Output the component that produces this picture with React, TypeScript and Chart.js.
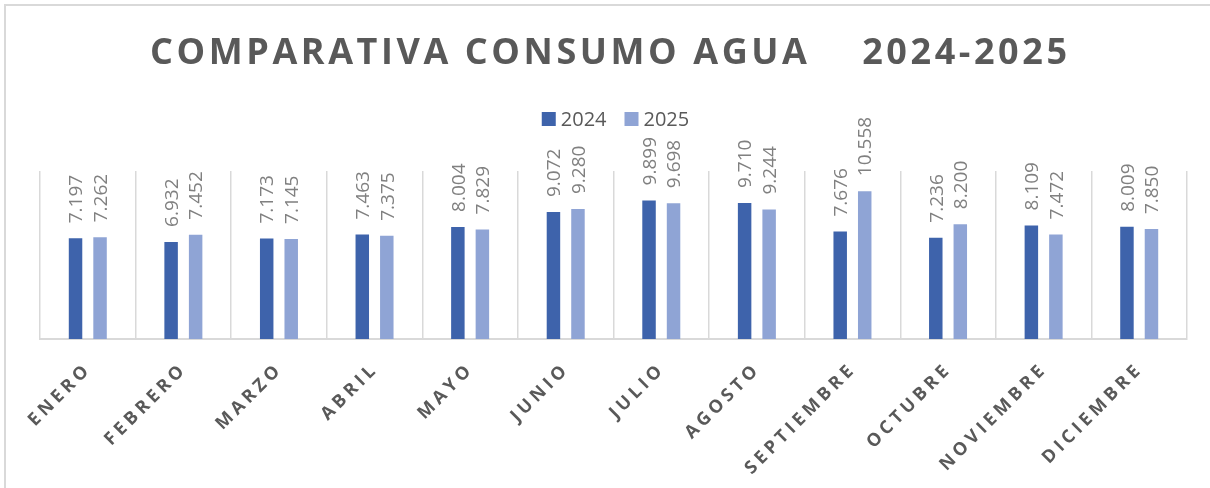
import { useEffect, useRef } from 'react';
import { Chart, registerables } from 'chart.js';

Chart.register(...registerables);

const MONTHS = ['ENERO', 'FEBRERO', 'MARZO', 'ABRIL', 'MAYO', 'JUNIO', 'JULIO', 'AGOSTO', 'SEPTIEMBRE', 'OCTUBRE', 'NOVIEMBRE', 'DICIEMBRE'];
const SERIES_2024 = [7.197, 6.932, 7.173, 7.463, 8.004, 9.072, 9.899, 9.71, 7.676, 7.236, 8.109, 8.009];
const SERIES_2025 = [7.262, 7.452, 7.145, 7.375, 7.829, 9.28, 9.698, 9.244, 10.558, 8.2, 7.472, 7.85];
const SERIES_NAMES = ['2024', '2025'];
const TITLE = 'COMPARATIVA CONSUMO AGUA    2024-2025';
const Y_MIN = 0;
const Y_MAX = 12;

const COLOR_2024 = '#3E63AB';
const COLOR_2025 = '#8FA4D5';
const TEXT_DARK = '#595959';
const TEXT_LABEL = '#808080';
const LINE = '#d9d9d9';

const FONT = '"Open Sans", "Liberation Sans", sans-serif';

const decorPlugin = {
  id: 'decor',
  beforeDraw(chart: any) {
    const ctx = chart.ctx as CanvasRenderingContext2D;
    ctx.save();
    ctx.strokeStyle = LINE;
    ctx.lineWidth = 2;
    ctx.beginPath();
    ctx.moveTo(5, chart.height);
    ctx.lineTo(5, 5);
    ctx.lineTo(chart.width, 5);
    ctx.stroke();
    ctx.restore();
  },
  afterDatasetsDraw(chart: any) {
    const ctx = chart.ctx as CanvasRenderingContext2D;
    ctx.save();
    ctx.font = `19px ${FONT}`;
    ctx.fillStyle = TEXT_LABEL;
    ctx.textAlign = 'left';
    ctx.textBaseline = 'alphabetic';
    const capHalf = 19 * 0.714 / 2;
    chart.data.datasets.forEach((ds: any, di: number) => {
      const meta = chart.getDatasetMeta(di);
      meta.data.forEach((bar: any, i: number) => {
        const v = ds.data[i] as number;
        const txt = v.toFixed(3);
        ctx.save();
        ctx.translate(bar.x + capHalf, bar.y - 15);
        ctx.rotate(-Math.PI / 2);
        ctx.fillText(txt, 0, 0);
        ctx.restore();
      });
    });
    ctx.restore();
  },
  afterDraw(chart: any) {
    const ctx = chart.ctx as CanvasRenderingContext2D;
    const area = chart.chartArea;
    ctx.save();

    // Title with letter spacing
    ctx.font = `bold 36px ${FONT}`;
    ctx.fillStyle = TEXT_DARK;
    ctx.textBaseline = 'alphabetic';
    ctx.textAlign = 'left';
    (ctx as any).letterSpacing = '0px';
    const targetW = 917;
    const w0 = ctx.measureText(TITLE).width;
    const sp = (targetW - w0) / (TITLE.length - 1);
    (ctx as any).letterSpacing = `${sp}px`;
    ctx.fillText(TITLE, 608.5 - targetW / 2, 64);
    (ctx as any).letterSpacing = '0px';

    // Legend
    ctx.font = `20px ${FONT}`;
    const box = 14;
    const gapText = 5;
    const gapItem = 18;
    const items = chart.data.datasets.map((ds: any) => ({
      label: ds.label as string,
      color: ds.backgroundColor as string,
      w: ctx.measureText(ds.label).width,
    }));
    const total = items.reduce((s: number, it: any) => s + box + gapText + it.w, 0) + gapItem * (items.length - 1);
    let x = (area.left + area.right) / 2 - total / 2 + 2;
    items.forEach((it: any) => {
      ctx.fillStyle = it.color;
      ctx.fillRect(x, 112, box, box);
      ctx.fillStyle = TEXT_DARK;
      ctx.fillText(it.label, x + box + gapText, 126);
      x += box + gapText + it.w + gapItem;
    });

    // X labels, rotated -45deg, letter spaced
    const xs = chart.scales.x;
    const ls = 4;
    ctx.font = `bold 18px ${FONT}`;
    ctx.fillStyle = TEXT_DARK;
    ctx.textBaseline = 'middle';
    ctx.textAlign = 'left';
    (ctx as any).letterSpacing = `${ls}px`;
    (chart.data.labels as string[]).forEach((lab, i) => {
      const cx = xs.getPixelForValue(i);
      const w = ctx.measureText(lab).width - ls;
      ctx.save();
      ctx.translate(cx - 2, area.bottom + 30);
      ctx.rotate(-Math.PI / 4);
      ctx.fillText(lab, -w, 0);
      ctx.restore();
    });
    (ctx as any).letterSpacing = '0px';

    ctx.restore();
  },
};

export default function App() {
  const ref = useRef<HTMLCanvasElement | null>(null);

  useEffect(() => {
    document.body.style.margin = '0';
    const canvas = ref.current;
    if (!canvas) return;
    const chart = new Chart(canvas, {
      type: 'bar',
      data: {
        labels: MONTHS,
        datasets: [
          {
            label: SERIES_NAMES[0],
            data: SERIES_2024,
            backgroundColor: COLOR_2024,
            categoryPercentage: 0.513,
            barPercentage: 0.55,
          },
          {
            label: SERIES_NAMES[1],
            data: SERIES_2025,
            backgroundColor: COLOR_2025,
            categoryPercentage: 0.513,
            barPercentage: 0.55,
          },
        ],
      },
      options: {
        responsive: false,
        animation: false,
        devicePixelRatio: 1,
        layout: { padding: { left: 40, right: 23, top: 171, bottom: 149 } },
        plugins: {
          legend: { display: false },
          title: { display: false },
          tooltip: { enabled: false },
        },
        scales: {
          x: {
            display: true,
            grid: { display: true, offset: true, color: LINE, lineWidth: 1.5, drawTicks: false },
            border: { display: true, color: LINE, width: 2 },
            ticks: { display: false },
          },
          y: {
            display: false,
            min: Y_MIN,
            max: Y_MAX,
          },
        },
      },
      plugins: [decorPlugin],
    });
    return () => chart.destroy();
  }, []);

  return <canvas ref={ref} width={1210} height={488} style={{ display: 'block' }} />;
}
